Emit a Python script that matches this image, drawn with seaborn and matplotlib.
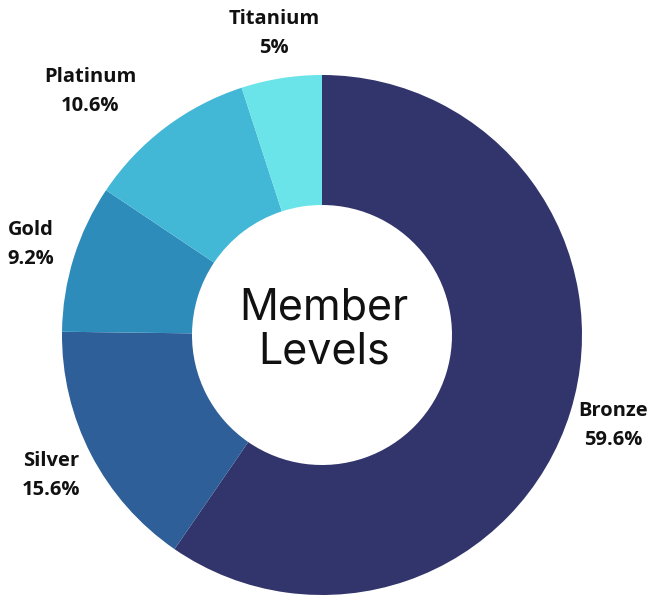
import matplotlib
matplotlib.use("Agg")
import matplotlib.pyplot as plt
import seaborn as sns

# data
levels = ["Bronze", "Silver", "Gold", "Platinum", "Titanium"]
shares = [59.6, 15.6, 9.2, 10.6, 5.0]
pct_labels = ["59.6%", "15.6%", "9.2%", "10.6%", "5%"]
colors = ["#32356b", "#2e5f98", "#2e8cbb", "#42b8d6", "#6ae4e9"]

sns.set_theme(style="white")
plt.rcParams['font.family'] = ['Open Sans', 'DejaVu Sans']

fig = plt.figure(figsize=(6.5, 5.95), dpi=100)
ax = fig.add_axes([0, 0, 1, 1])

labels = [f"{n}\n{p}" for n, p in zip(levels, pct_labels)]
wedges, texts = ax.pie(
    shares, colors=colors, labels=labels, startangle=90, counterclock=False,
    center=(322, 260), radius=260, labeldistance=305 / 260,
    wedgeprops=dict(width=130, linewidth=0),
    textprops=dict(fontsize=14.5, fontweight='bold', color='#111111', linespacing=1.6),
    frame=True,
)
ax.set_xlim(0, 650)
ax.set_ylim(0, 595)
ax.set_aspect('equal')
ax.axis('off')
for t in texts:
    t.set_ha('center')
    t.set_va('center')

# platinum label is pushed left in the original
x, y = texts[3].get_position()
texts[3].set_position((x - 48, y))

ax.text(324, 265, "Member\nLevels", ha='center', va='center', fontsize=31,
        family=['Inter', 'DejaVu Sans'], color='#111111', linespacing=1.1)

fig.savefig("out.png", dpi=100)
